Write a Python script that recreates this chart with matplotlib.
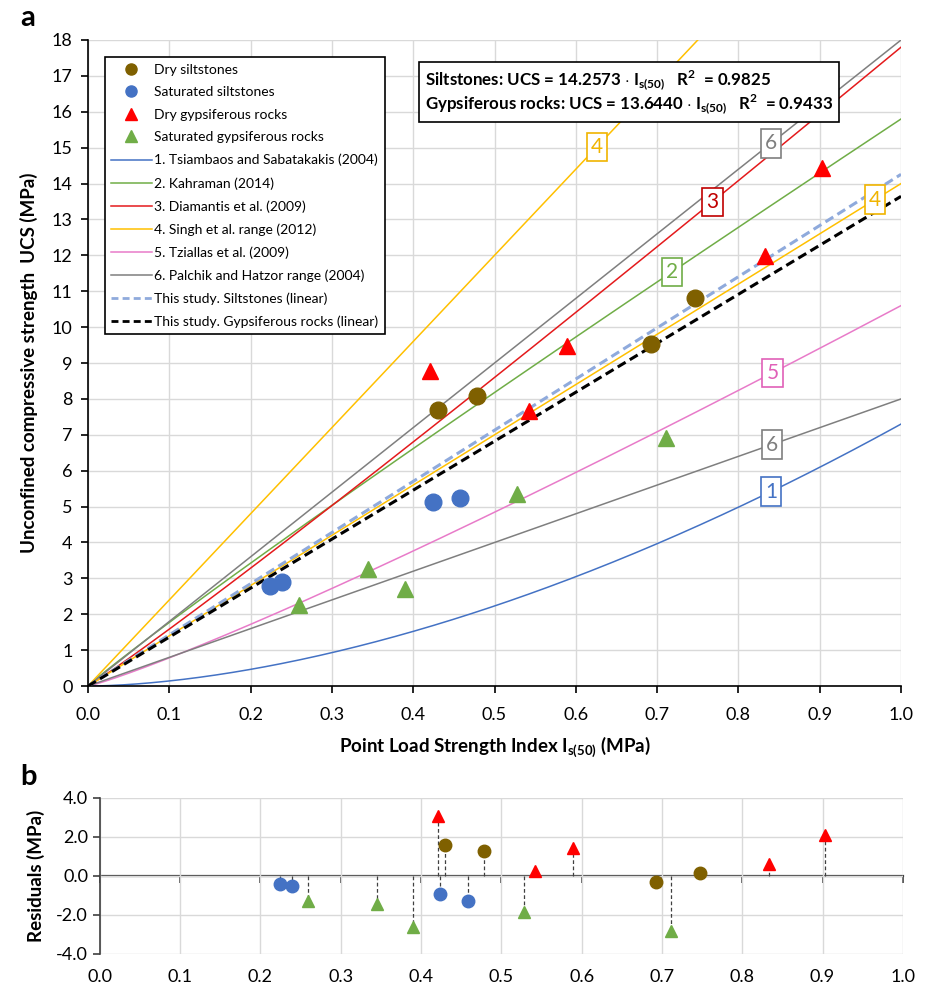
import matplotlib
matplotlib.use('Agg')
import matplotlib.pyplot as plt
from matplotlib.lines import Line2D
import numpy as np

plt.rcParams['font.family'] = ['Lato', 'DejaVu Sans']
plt.rcParams['mathtext.fontset'] = 'custom'
plt.rcParams['mathtext.rm'] = 'Lato'
plt.rcParams['mathtext.bf'] = 'Lato:bold'

# measured data
dry_silt_x = [0.430, 0.478, 0.692, 0.747]
dry_silt_y = [7.69, 8.08, 9.53, 10.81]
sat_silt_x = [0.224, 0.239, 0.424, 0.458]
sat_silt_y = [2.79, 2.90, 5.13, 5.24]
dry_gyps_x = [0.421, 0.542, 0.589, 0.833, 0.903]
dry_gyps_y = [8.79, 7.66, 9.47, 11.98, 14.43]
sat_gyps_x = [0.259, 0.345, 0.390, 0.528, 0.711]
sat_gyps_y = [2.26, 3.26, 2.70, 5.35, 6.90]

silt_slope = 14.2573
gyps_slope = 13.6440

# published correlations: UCS = a * Is^b
corr_names = ['1', '2', '3', '4', '4', '5', '6', '6']
corr_a = [7.3, 15.8, 17.8, 24.0, 14.0, 10.6, 18.0, 8.0]
corr_b = [1.71, 0.95, 1.05, 1.0, 1.0, 1.13, 1.0, 1.0]
corr_label_x = [0.840, 0.718, 0.768, 0.626, 0.968, 0.842, 0.840, 0.841]
corr_colors = ['#4472C4', '#70AD47', '#E41A1C', '#FFC000', '#FFC000',
               '#E87BC9', '#7F7F7F', '#7F7F7F']
label_colors = ['#4472C4', '#70AD47', '#C00000', '#F0B400', '#F0B400',
                '#E060B8', '#7F7F7F', '#7F7F7F']

legend_names = ['Dry siltstones', 'Saturated siltstones', 'Dry gypsiferous rocks',
                'Saturated gypsiferous rocks',
                '1. Tsiambaos and Sabatakakis (2004)', '2. Kahraman (2014)',
                '3. Diamantis et al. (2009)', '4. Singh et al. range (2012)',
                '5. Tziallas et al. (2009)', '6. Palchik and Hatzor range (2004)',
                'This study. Siltstones (linear)',
                'This study. Gypsiferous rocks (linear)']

brown = '#7F6000'
blue = '#4472C4'
red = '#FF0000'
green = '#70AD47'
grid_c = '#D9D9D9'

fig = plt.figure(figsize=(9.25, 9.9), dpi=100)
ax = fig.add_axes([0.0951, 0.307, 0.879, 0.6526])
axr = fig.add_axes([0.108, 0.0364, 0.868, 0.158])

xs = np.linspace(0, 1, 300)
for a, b, c in zip(corr_a, corr_b, corr_colors):
    ax.plot(xs, a * xs ** b, color=c, lw=1.1, zorder=2)
ax.plot(xs, silt_slope * xs, color='#8FAADC', lw=2.2, ls=(0, (3, 1.6)), zorder=3)
ax.plot(xs, gyps_slope * xs, color='black', lw=2.2, ls=(0, (3, 1.6)), zorder=3)

for n, a, b, lx, c in zip(corr_names, corr_a, corr_b, corr_label_x, label_colors):
    ax.text(lx, a * lx ** b, n, color=c, fontsize=15, ha='center', va='center',
            zorder=4, bbox=dict(boxstyle='square,pad=0.2', fc='white', ec=c, lw=1.2))

ax.plot(dry_silt_x, dry_silt_y, 'o', color=brown, ms=12, zorder=5)
ax.plot(sat_silt_x, sat_silt_y, 'o', color=blue, ms=12, zorder=5)
ax.plot(dry_gyps_x, dry_gyps_y, '^', color=red, ms=12, zorder=5)
ax.plot(sat_gyps_x, sat_gyps_y, '^', color=green, ms=12, zorder=5)

ax.set_xlim(0, 1)
ax.set_ylim(0, 18)
ax.set_xticks(np.arange(0, 1.01, 0.1))
ax.set_xticklabels(['%.1f' % v for v in np.arange(0, 1.01, 0.1)])
ax.set_yticks(np.arange(0, 19, 1))
ax.grid(True, color=grid_c, lw=1.0, zorder=0)
ax.set_axisbelow(True)
for s in ['top', 'right']:
    ax.spines[s].set_visible(False)
for s in ['left', 'bottom']:
    ax.spines[s].set_color('black')
    ax.spines[s].set_linewidth(1.2)
ax.tick_params(axis='both', labelsize=13, length=5, width=1.2, direction='out', pad=6)
ax.tick_params(axis='x', pad=10)
ax.set_xlabel(r'Point Load Strength Index I$_{\mathbf{s(50)}}$ (MPa)', fontsize=13.5,
              fontweight='bold', labelpad=8)
ax.set_ylabel('Unconfined compressive strength  UCS (MPa)', fontsize=13.5,
              fontweight='bold', labelpad=10)

handles = [
    Line2D([], [], ls='none', marker='o', color=brown, ms=8),
    Line2D([], [], ls='none', marker='o', color=blue, ms=8),
    Line2D([], [], ls='none', marker='^', color=red, ms=8),
    Line2D([], [], ls='none', marker='^', color=green, ms=8),
    Line2D([], [], color=corr_colors[0], lw=1.1),
    Line2D([], [], color=corr_colors[1], lw=1.1),
    Line2D([], [], color=corr_colors[2], lw=1.1),
    Line2D([], [], color=corr_colors[3], lw=1.1),
    Line2D([], [], color=corr_colors[5], lw=1.1),
    Line2D([], [], color=corr_colors[6], lw=1.1),
    Line2D([], [], color='#8FAADC', lw=2, ls=(0, (2.5, 1.5))),
    Line2D([], [], color='black', lw=2, ls=(0, (2.5, 1.5))),
]
leg = ax.legend(handles, legend_names, loc='upper left', bbox_to_anchor=(0.021, 0.973),
                fontsize=10, frameon=True, fancybox=False, framealpha=1,
                edgecolor='black', handlelength=2.9, handletextpad=0.2,
                labelspacing=0.76, borderpad=0.45, borderaxespad=0)
leg.get_frame().set_linewidth(1.2)
leg.set_zorder(6)

eq = (r'Siltstones: UCS = 14.2573 $\cdot$ I$_{\mathbf{s(50)}}$   R$^{\mathbf{2}}$  = 0.9825' + '\n' +
      r'Gypsiferous rocks: UCS = 13.6440 $\cdot$ I$_{\mathbf{s(50)}}$   R$^{\mathbf{2}}$  = 0.9433')
ax.text(0.4145, 0.957, eq, transform=ax.transAxes, fontsize=12.2, fontweight='bold',
        va='top', ha='left', linespacing=1.05, zorder=6,
        bbox=dict(boxstyle='square,pad=0.35', fc='white', ec='black', lw=1.2))

fig.text(0.022, 0.982, 'a', fontsize=21, fontweight='bold', va='center')
fig.text(0.022, 0.215, 'b', fontsize=21, fontweight='bold', va='center')

# residuals
groups = [(dry_silt_x, dry_silt_y, silt_slope, 'o', brown),
          (sat_silt_x, sat_silt_y, silt_slope, 'o', blue),
          (dry_gyps_x, dry_gyps_y, gyps_slope, '^', red),
          (sat_gyps_x, sat_gyps_y, gyps_slope, '^', green)]
for gx, gy, k, m, c in groups:
    gx = np.array(gx)
    res = np.array(gy) - k * gx
    axr.vlines(gx, 0, res, colors='#404040', lw=0.9, linestyles=(0, (3, 2)), zorder=2)
    axr.plot(gx, res, m, color=c, ms=9, zorder=4)

axr.set_xlim(0, 1)
axr.set_ylim(-4, 4)
axr.set_yticks([-4, -2, 0, 2, 4])
axr.set_yticklabels(['%.1f' % v for v in [-4, -2, 0, 2, 4]])
axr.set_xticks(np.arange(0, 1.01, 0.1))
axr.set_xticklabels(['%.1f' % v for v in np.arange(0, 1.01, 0.1)])
axr.grid(True, color=grid_c, lw=1.0, zorder=0)
axr.set_axisbelow(True)
for s in ['top', 'right', 'bottom']:
    axr.spines[s].set_visible(False)
axr.spines['left'].set_color('#404040')
axr.spines['left'].set_linewidth(1.2)
axr.tick_params(axis='y', labelsize=13, length=5, width=1.2, color='#404040')
axr.tick_params(axis='x', labelsize=13, length=0, pad=11)
zero = axr.secondary_xaxis(0.5)
zero.set_xticks(np.arange(0, 1.01, 0.1))
zero.set_xticklabels([])
zero.tick_params(axis='x', direction='in', length=5, width=1.2, color='#404040',
                 labelbottom=False, labeltop=False)
for s in ['top', 'bottom']:
    zero.spines[s].set_color('#404040')
    zero.spines[s].set_linewidth(1.6)
axr.set_ylabel('Residuals (MPa)', fontsize=13.5, fontweight='bold', labelpad=8)

fig.savefig('out.png', dpi=100)
